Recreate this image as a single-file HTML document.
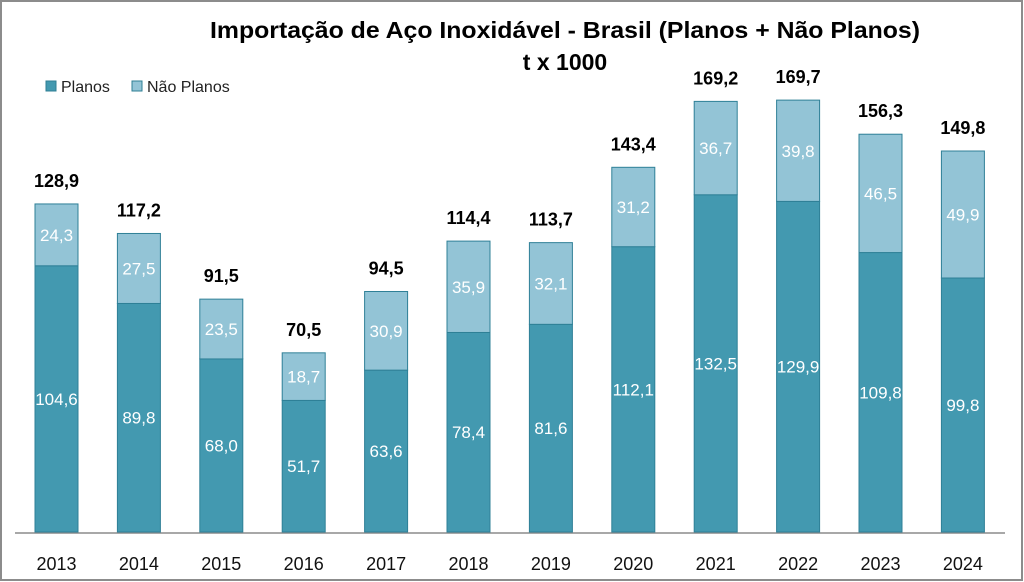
<!DOCTYPE html>
<html><head><meta charset="utf-8"><style>
html,body{margin:0;padding:0;background:#fff}
svg{display:block}
text{font-family:"Liberation Sans",sans-serif}
</style></head><body>
<svg width="1024" height="582" viewBox="0 0 1024 582">
<rect x="1" y="1" width="1021" height="579" fill="#fff" stroke="#8c8c8c" stroke-width="2"/>
<text x="565" y="38" text-anchor="middle" font-size="23" font-weight="bold" fill="#000" textLength="710" lengthAdjust="spacingAndGlyphs">Importação de Aço Inoxidável - Brasil  (Planos + Não Planos)</text>
<text x="565" y="70" text-anchor="middle" font-size="23" font-weight="bold" fill="#000">t x 1000</text>
<rect x="46" y="81" width="10" height="10" fill="#4399b0" stroke="#2f7f94"/>
<text x="61" y="92" font-size="16" fill="#222">Planos</text>
<rect x="132" y="81" width="10" height="10" fill="#93c4d6" stroke="#2f7f94"/>
<text x="147" y="92" font-size="16" fill="#222">Não Planos</text>
<line x1="15" y1="533" x2="1005" y2="533" stroke="#8c8c8c" stroke-width="1.5"/>
<g id="bars"></g>
</svg>
<script>
var d=[[2013,104.6,24.3,"128,9"],[2014,89.8,27.5,"117,2"],[2015,68.0,23.5,"91,5"],[2016,51.7,18.7,"70,5"],[2017,63.6,30.9,"94,5"],[2018,78.4,35.9,"114,4"],[2019,81.6,32.1,"113,7"],[2020,112.1,31.2,"143,4"],[2021,132.5,36.7,"169,2"],[2022,129.9,39.8,"169,7"],[2023,109.8,46.5,"156,3"],[2024,99.8,49.9,"149,8"]];
var s=2.545,b=532,g=document.getElementById('bars'),h='';
function f(v){return v.toFixed(1).replace('.',',');}
d.forEach(function(r,i){
var cx=56.5+i*82.4,x=cx-21.5,h1=r[1]*s,h2=r[2]*s,t=b-h1-h2;
h+='<rect x="'+x+'" y="'+(b-h1)+'" width="43" height="'+h1+'" fill="#4399b0" stroke="#2f8097" stroke-width="1"/>';
h+='<rect x="'+x+'" y="'+t+'" width="43" height="'+h2+'" fill="#93c4d6" stroke="#2f8097" stroke-width="1"/>';
h+='<text x="'+cx+'" y="'+(b-h1/2+6)+'" text-anchor="middle" font-size="17" fill="#fff">'+f(r[1])+'</text>';
h+='<text x="'+cx+'" y="'+(t+h2/2+6)+'" text-anchor="middle" font-size="17" fill="#fff">'+f(r[2])+'</text>';
h+='<text x="'+cx+'" y="'+(t-17)+'" text-anchor="middle" font-size="18" font-weight="bold" fill="#000">'+r[3]+'</text>';
h+='<text x="'+cx+'" y="570" text-anchor="middle" font-size="18" fill="#111">'+r[0]+'</text>';
});
g.innerHTML=h;
</script>
</body></html>
